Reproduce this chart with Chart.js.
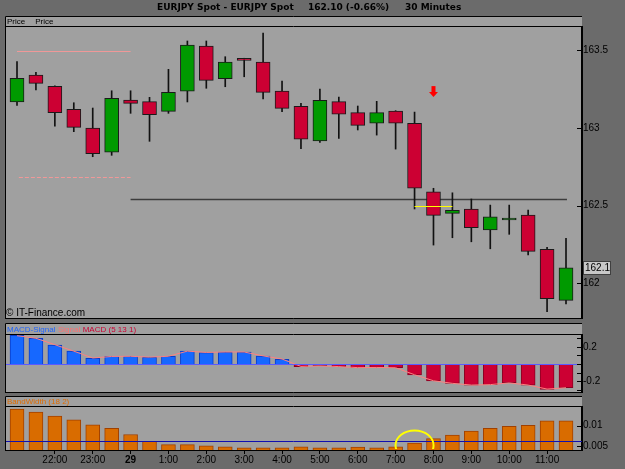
<!DOCTYPE html>
<html>
<head>
<meta charset="utf-8">
<script src="https://cdn.jsdelivr.net/npm/chart.js@4.4.1/dist/chart.umd.min.js"></script>
<style>
  html, body { margin: 0; padding: 0; background: #6b6b6b; }
  body { width: 625px; height: 469px; position: relative; overflow: hidden; }
  canvas { position: absolute; left: 0; }
  #priceChart { top: 0; }
  #macdChart { top: 320px; }
  #bwChart { top: 394px; }
</style>
</head>
<body>
<canvas id="priceChart" width="625" height="320"></canvas>
<canvas id="macdChart" width="625" height="74"></canvas>
<canvas id="bwChart" width="625" height="75"></canvas>
<script>
// EURJPY Spot, 30 minute bars: price, MACD histogram and Bollinger bandwidth

const times = ['21:00', '21:30', '22:00', '22:30', '23:00', '23:30', '29', '0:30', '1:00', '1:30',
    '2:00', '2:30', '3:00', '3:30', '4:00', '4:30', '5:00', '5:30', '6:00', '6:30',
    '7:00', '7:30', '8:00', '8:30', '9:00', '9:30', '10:00', '10:30', '11:00', '11:30'];

const opens  = [163.166, 163.339, 163.267, 163.119, 162.998, 162.844, 163.178, 163.168, 163.106, 163.236,
    163.526, 163.315, 163.437, 163.423, 163.236, 163.138, 162.915, 163.168, 163.097, 163.029,
    163.108, 163.029, 162.589, 162.450, 162.478, 162.344, 162.407, 162.439, 162.218, 161.890];
const highs  = [163.425, 163.357, 163.270, 163.161, 163.127, 163.238, 163.238, 163.196, 163.376, 163.558,
    163.558, 163.457, 163.447, 163.609, 163.301, 163.157, 163.249, 163.198, 163.140, 163.170,
    163.110, 163.101, 162.611, 162.582, 162.542, 162.503, 162.503, 162.471, 162.231, 162.289];
const lows   = [163.144, 163.243, 163.011, 162.975, 162.814, 162.823, 163.093, 162.913, 163.093, 163.166,
    163.254, 163.264, 163.328, 163.185, 163.103, 162.865, 162.906, 162.932, 162.986, 162.953,
    162.863, 162.478, 162.246, 162.293, 162.267, 162.222, 162.315, 162.182, 161.817, 161.867];
const closes = [163.318, 163.286, 163.097, 163.003, 162.833, 163.189, 163.157, 163.084, 163.228, 163.532,
    163.305, 163.423, 163.433, 163.228, 163.125, 162.926, 163.177, 163.087, 163.016, 163.097,
    163.029, 162.611, 162.437, 162.469, 162.357, 162.428, 162.418, 162.205, 161.901, 162.100];

const macdHist = [0.335, 0.300, 0.221, 0.152, 0.066, 0.090, 0.090, 0.078, 0.090, 0.152,
    0.132, 0.140, 0.140, 0.093, 0.055, -0.030, -0.020, -0.030, -0.043, -0.040,
    -0.043, -0.128, -0.198, -0.225, -0.245, -0.240, -0.218, -0.245, -0.295, -0.276];
const macdSignal = [0.330, 0.300, 0.225, 0.150, 0.070, 0.088, 0.090, 0.080, 0.090, 0.150,
    0.135, 0.140, 0.140, 0.095, 0.058, -0.028, -0.022, -0.030, -0.042, -0.040,
    -0.043, -0.125, -0.195, -0.225, -0.245, -0.240, -0.220, -0.245, -0.292, -0.276];

const bandWidth = [0.0141, 0.01335, 0.01235, 0.01143, 0.01025, 0.00935, 0.00785, 0.00618, 0.00535, 0.00535,
    0.0051, 0.00485, 0.0046, 0.0046, 0.0046, 0.00485, 0.0046, 0.0046, 0.00475, 0.0046,
    0.00485, 0.00575, 0.00685, 0.00768, 0.00868, 0.00935, 0.00985, 0.0101, 0.01118, 0.01118];

const priceTicks = [162, 162.5, 163, 163.5];
const macdTicks = [-0.3, -0.2, -0.1, 0, 0.1, 0.2, 0.3];
const macdLabels = [-0.2, 0.2];
const bwTicks = [0.005, 0.01];

// levels drawn on the panels
const upperLevel = 163.494;
const lowerLevel = 162.685;
const supportLevel = 162.545;
const pivotLevel = 162.5;
const arrowLevel = 163.268;
const bwAverage = 0.00635;
const bwMarkLevel = 0.00518;

const titleParts = ['EURJPY Spot - EURJPY Spot', '162.10 (-0.66%)', '30 Minutes'];

const FONT = "'Liberation Sans', Arial, sans-serif";
const PANEL_BG = '#a0a0a0';
const GREEN = '#009a00';
const RED = '#cc0033';
const BLUE = '#1668ff';
const X_MIN = -0.634;
const X_MAX = 29.845;

Chart.defaults.font.family = FONT;
Chart.defaults.font.size = 10;
Chart.defaults.color = '#000';
Chart.defaults.animation = false;

const hourTicks = times.map((t, i) => i).filter(i => i >= 2 && i % 2 === 0);

function xAxis(show) {
    return {
        type: 'linear',
        min: X_MIN,
        max: X_MAX,
        offset: false,
        display: show,
        afterBuildTicks: s => { s.ticks = hourTicks.map(i => ({ value: i })); },
        afterFit: s => {
            if (show) s.height = 19;
            s.paddingLeft = 0;
            s.paddingRight = 0;
        },
        grid: { offset: false, drawOnChartArea: false, drawTicks: true, tickLength: 4, color: '#000' },
        border: { display: true, color: '#000', width: 1 },
        ticks: {
            autoSkip: false,
            maxRotation: 0,
            padding: 0,
            callback: v => times[v],
            font: c => ({
                family: FONT,
                size: 10,
                weight: c.tick && times[c.tick.value] === '29' ? 'bold' : 'normal'
            })
        }
    };
}

function yAxis(min, max, tickVals, label) {
    return {
        position: 'right',
        min: min,
        max: max,
        afterBuildTicks: s => { s.ticks = tickVals.map(v => ({ value: v })); },
        afterFit: s => { s.width = 43; s.paddingTop = 0; s.paddingBottom = 0; },
        grid: { display: false, drawTicks: false },
        border: { display: true, color: '#000', width: 2 },
        ticks: { padding: 1, autoSkip: false, callback: label }
    };
}

// panel background, frame and header captions
function panelFrame(headerH, captions) {
    return {
        id: 'panelFrame',
        beforeDraw(chart) {
            const { ctx, chartArea: a } = chart;
            ctx.save();
            ctx.fillStyle = PANEL_BG;
            ctx.fillRect(a.left, a.top - headerH, a.right - a.left, a.bottom - a.top + headerH);
            ctx.restore();
        },
        afterDraw(chart) {
            const { ctx, chartArea: a } = chart;
            const top = a.top - headerH;
            ctx.save();
            ctx.strokeStyle = '#000';
            ctx.lineWidth = 1;
            ctx.beginPath();
            ctx.moveTo(a.left + 0.5, a.bottom + 0.5);
            ctx.lineTo(a.left + 0.5, top + 0.5);
            ctx.lineTo(a.right, top + 0.5);
            ctx.moveTo(a.left, a.top - 0.5);
            ctx.lineTo(a.right, a.top - 0.5);
            ctx.moveTo(a.left, a.bottom + 0.5);
            ctx.lineTo(a.right, a.bottom + 0.5);
            ctx.stroke();

            ctx.font = '8px ' + FONT;
            ctx.textBaseline = 'middle';
            let x = 7;
            captions.forEach(([text, color, gap]) => {
                ctx.fillStyle = color;
                ctx.fillText(text, x, top + headerH / 2 + 0.5);
                x += ctx.measureText(text).width + gap;
            });
            ctx.restore();
        }
    };
}

// short tick marks pointing into the plot
const innerTicks = {
    id: 'innerTicks',
    afterDraw(chart) {
        const s = chart.scales.y;
        const ctx = chart.ctx;
        ctx.save();
        ctx.strokeStyle = '#000';
        ctx.lineWidth = 1;
        s.ticks.forEach(t => {
            const y = Math.round(s.getPixelForValue(t.value)) + 0.5;
            ctx.beginPath();
            ctx.moveTo(s.left - 5, y);
            ctx.lineTo(s.left, y);
            ctx.stroke();
        });
        ctx.restore();
    }
};

function hline(chart, value, i0, i1, color, width, dash) {
    const { ctx, scales: { x, y } } = chart;
    const py = Math.round(y.getPixelForValue(value)) + 0.5;
    ctx.save();
    ctx.strokeStyle = color;
    ctx.lineWidth = width;
    ctx.setLineDash(dash);
    ctx.beginPath();
    ctx.moveTo(x.getPixelForValue(i0), py);
    ctx.lineTo(x.getPixelForValue(i1), py);
    ctx.stroke();
    ctx.restore();
}

const priceDecor = {
    id: 'priceDecor',
    beforeDatasetsDraw(chart) {
        hline(chart, upperLevel, 0, 6, '#f09898', 1, []);
        hline(chart, lowerLevel, 0.1, 6, '#f09898', 1, [4, 2]);
        hline(chart, supportLevel, 6, 29.05, '#3c3c3c', 1.5, []);
    },
    afterDatasetsDraw(chart) {
        const { ctx, scales: { x, y } } = chart;
        hline(chart, pivotLevel, 21, 23, '#ffff00', 1, []);

        // sell arrow
        const ax = x.getPixelForValue(22);
        const ay = y.getPixelForValue(arrowLevel);
        ctx.save();
        ctx.fillStyle = '#ff0000';
        ctx.fillRect(ax - 2, ay, 4, 7);
        ctx.beginPath();
        ctx.moveTo(ax - 4.5, ay + 6);
        ctx.lineTo(ax + 4.5, ay + 6);
        ctx.lineTo(ax, ay + 11);
        ctx.closePath();
        ctx.fill();
        ctx.restore();
    },
    afterDraw(chart) {
        const { ctx, scales: { y } } = chart;
        ctx.save();
        ctx.fillStyle = '#000';
        ctx.textBaseline = 'middle';
        ctx.font = "bold 9px 'DejaVu Sans', sans-serif";
        ctx.fillText(titleParts[0], 157, 7.5);
        ctx.fillText(titleParts[1], 308, 7.5);
        ctx.fillText(titleParts[2], 405, 7.5);

        ctx.font = '10px ' + FONT;
        ctx.fillText('\u00a9 IT-Finance.com', 6, 313);

        // last price marker on the axis
        const last = closes[closes.length - 1];
        const py = Math.round(y.getPixelForValue(last));
        ctx.fillStyle = '#c8c8c8';
        ctx.fillRect(583, py - 7, 28, 14);
        ctx.strokeStyle = '#404040';
        ctx.lineWidth = 1;
        ctx.strokeRect(583.5, py - 6.5, 27, 13);
        ctx.fillStyle = '#000';
        ctx.fillText(String(last), 585, py + 0.5);
        ctx.restore();
    }
};

const macdDecor = {
    id: 'macdDecor',
    afterDatasetsDraw(chart) {
        hline(chart, 0, X_MIN, X_MAX, '#5a5aff', 1, []);
    }
};

const bwDecor = {
    id: 'bwDecor',
    afterDatasetsDraw(chart) {
        const { ctx, chartArea: a, scales: { x, y } } = chart;
        hline(chart, bwAverage, X_MIN, X_MAX, '#1010b0', 1, []);
        ctx.save();
        ctx.beginPath();
        ctx.rect(a.left, a.top, a.right - a.left, a.bottom - a.top - 1);
        ctx.clip();
        ctx.strokeStyle = '#ffff00';
        ctx.lineWidth = 2;
        ctx.beginPath();
        ctx.ellipse(x.getPixelForValue(21), y.getPixelForValue(bwMarkLevel), 19, 15, 0, 0, Math.PI * 2);
        ctx.stroke();
        ctx.restore();
    }
};

const noPlugins = { legend: { display: false }, tooltip: { enabled: false } };

// price panel
new Chart(document.getElementById('priceChart'), {
    type: 'bar',
    data: {
        datasets: [
            {
                data: opens.map((o, i) => ({ x: i, y: [o, closes[i]] })),
                order: 0,
                grouped: false,
                barThickness: 14,
                minBarLength: 2,
                borderWidth: 1,
                borderSkipped: false,
                borderColor: '#1a1a1a',
                backgroundColor: c => closes[c.dataIndex] >= opens[c.dataIndex] ? GREEN : RED
            },
            {
                data: lows.map((l, i) => ({ x: i, y: [l, highs[i]] })),
                order: 1,
                grouped: false,
                barThickness: 1,
                borderWidth: 0,
                backgroundColor: '#111'
            }
        ]
    },
    options: {
        responsive: false,
        layout: { padding: { left: 5, top: 27, right: 0, bottom: 2 } },
        plugins: noPlugins,
        scales: {
            x: xAxis(false),
            y: yAxis(161.777, 163.648, priceTicks, v => String(v))
        }
    },
    plugins: [panelFrame(11, [['Price', '#000', 10], ['Price', '#000', 0]]), priceDecor, innerTicks]
});

// MACD panel
new Chart(document.getElementById('macdChart'), {
    type: 'bar',
    data: {
        datasets: [
            {
                type: 'line',
                data: macdSignal.map((v, i) => ({ x: i, y: v })),
                order: -1,
                borderColor: '#ff8080',
                borderWidth: 1,
                pointRadius: 0,
                tension: 0
            },
            {
                data: macdHist.map((v, i) => ({ x: i, y: v })),
                order: 0,
                grouped: false,
                barThickness: 14,
                borderWidth: 1,
                backgroundColor: c => macdHist[c.dataIndex] >= 0 ? BLUE : RED,
                borderColor: c => macdHist[c.dataIndex] >= 0 ? '#0a3cc8' : '#8a0022'
            }
        ]
    },
    options: {
        responsive: false,
        layout: { padding: { left: 5, top: 15, right: 0, bottom: 2 } },
        plugins: noPlugins,
        scales: {
            x: xAxis(false),
            y: yAxis(-0.326, 0.338, macdTicks, v => macdLabels.includes(v) ? String(v) : '')
        }
    },
    plugins: [panelFrame(12, [['MACD-Signal', '#1e64ff', 2.5], ['Signal', '#ff7070', 2.5], ['MACD (5 13 1)', '#cc0033', 0]]), macdDecor, innerTicks]
});

// bandwidth panel
new Chart(document.getElementById('bwChart'), {
    type: 'bar',
    data: {
        datasets: [
            {
                data: bandWidth.map((v, i) => ({ x: i, y: v })),
                grouped: false,
                barThickness: 14,
                borderWidth: 1,
                backgroundColor: '#d96c00',
                borderColor: '#a04000'
            }
        ]
    },
    options: {
        responsive: false,
        layout: { padding: { left: 5, top: 13, right: 0, bottom: 0 } },
        plugins: noPlugins,
        scales: {
            x: xAxis(true),
            y: yAxis(0.00405, 0.0146, bwTicks, v => String(v))
        }
    },
    plugins: [panelFrame(11, [['BandWidth (18 2)', '#e06c00', 0]]), bwDecor, innerTicks]
});
</script>
</body>
</html>
